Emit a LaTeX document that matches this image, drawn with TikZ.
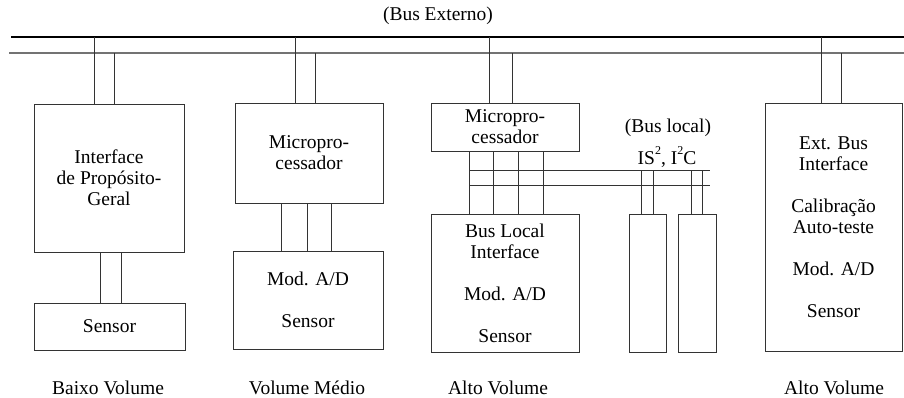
\documentclass[tikz,border=0pt]{standalone}
\usepackage{fontspec}
\setmainfont{Liberation Serif}
\newfontfamily\tms{Liberation Serif}
\begin{document}
\begin{tikzpicture}[x=1pt,y=-1pt,
  blk/.style={draw=black!80,line width=0.9pt,inner sep=0pt,align=center,font=\tms\fontsize{19.5}{21}\selectfont},
  lbl/.style={inner sep=0pt,font=\tms\fontsize{19.5}{21}\selectfont},
  wire/.style={draw=black!80,line width=0.9pt}]
\useasboundingbox (0,0) rectangle (904,398);
% external bus
\coordinate (eA) at (11,37); \coordinate (eA2) at (904,37);
\coordinate (eB) at (9,53); \coordinate (eB2) at (904,53);
\draw[line width=1.2pt] (eA) -- (eA2);
\draw[line width=1.6pt,draw=black!55] (eB) -- (eB2);
\node[lbl] (title) at (438,16) {(Bus Externo)};
% column 1
\node[blk,minimum width=150pt,minimum height=148pt] (gp) at (109,178) {Interface\\de Propósito-\\Geral};
\node[blk,minimum width=151pt,minimum height=47pt] (s1) at (109.5,326.5) {Sensor};
\node[lbl] (l1) at (108,388) {Baixo Volume};
% column 2
\node[blk,minimum width=148pt,minimum height=100pt] (m2) at (309,153) {Micropro-\\cessador};
\node[blk,minimum width=150pt,minimum height=98pt] (a2) at (308,300) {Mod. A/D\\[21pt]Sensor};
\node[lbl] (l2) at (307,388) {Volume Médio};
% column 3
\node[blk,minimum width=148pt,minimum height=48pt] (m3) at (505,127) {Micropro-\\cessador};
\node[blk,minimum width=148pt,minimum height=138pt] (a3) at (505,283) {Bus Local\\Interface\\[21pt]Mod. A/D\\[21pt]Sensor};
\node[blk,minimum width=37pt,minimum height=138pt] (sa) at (647.5,283) {};
\node[blk,minimum width=38pt,minimum height=138pt] (sb) at (697,283) {};
\node[lbl] (bl1) at (668,128) {(Bus local)};
\node[lbl] (bl2) at (667,157) {IS\raisebox{1.1ex}{\fontsize{12}{12}\selectfont 2}, I\raisebox{1.1ex}{\fontsize{12}{12}\selectfont 2}C};
\node[lbl] (l3) at (498,388) {Alto Volume};
\coordinate (lA) at (469,170); \coordinate (lA2) at (710,170);
\coordinate (lB) at (469,185); \coordinate (lB2) at (710,185);
\draw[wire] (lA) -- (lA2);
\draw[wire] (lB) -- (lB2);
% column 4
\node[blk,minimum width=137pt,minimum height=248pt] (e4) at (833.5,227) {Ext. Bus\\Interface\\[21pt]Calibração\\Auto-teste\\[21pt]Mod. A/D\\[21pt]Sensor};
\node[lbl] (l4) at (834,388) {Alto Volume};
% connectors to external bus
\foreach \n/\dx/\bus in {gp/-15/eA, gp/5/eB, m2/-14/eA, m2/6/eB, m3/-16/eA, m3/7/eB, e4/-12.5/eA, e4/7.5/eB}
  \draw[wire] ([xshift=\dx pt]\n.north) -- ([xshift=\dx pt]\n.north |- \bus);
% inner connectors
\foreach \dx in {-9.5,11.5}
  \draw[wire] ([xshift=\dx pt]s1.north) -- ([xshift=\dx pt]s1.north |- gp.south);
\foreach \dx in {-27,-1,23}
  \draw[wire] ([xshift=\dx pt]a2.north) -- ([xshift=\dx pt]a2.north |- m2.south);
\foreach \dx in {-36,-12,13,38}
  \draw[wire] ([xshift=\dx pt]a3.north) -- ([xshift=\dx pt]a3.north |- m3.south);
\foreach \n/\dx in {sa/-5.8, sa/5.8, sb/-6, sb/5.3}
  \draw[wire] ([xshift=\dx pt]\n.north) -- ([xshift=\dx pt]\n.north |- lA);
\end{tikzpicture}
\end{document}
